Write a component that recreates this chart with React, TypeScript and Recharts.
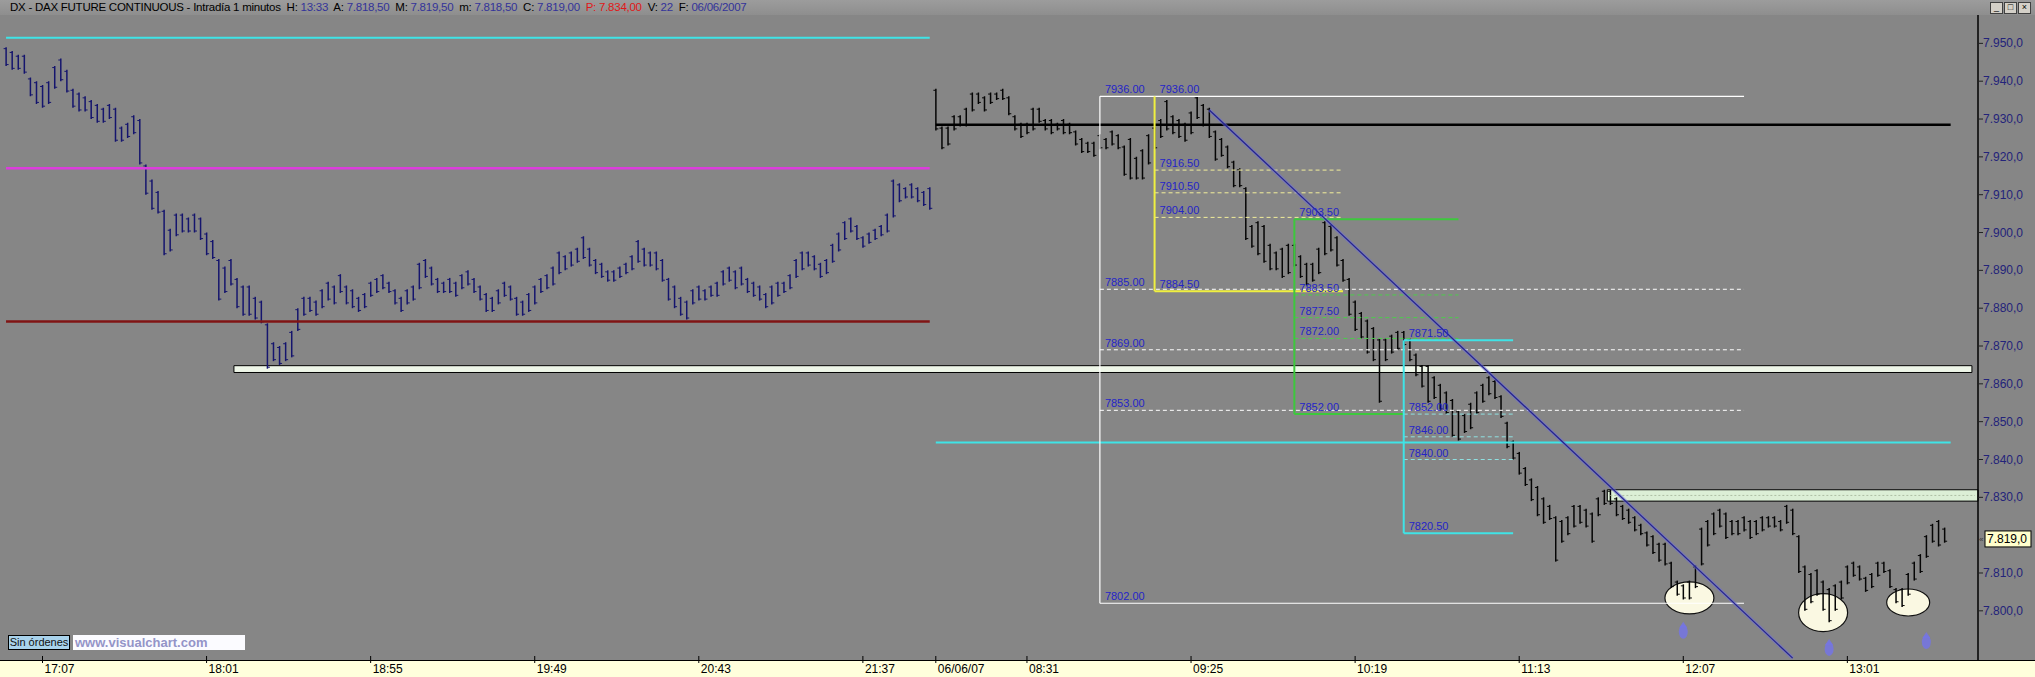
import React from "react"
import { ComposedChart, Bar, XAxis, YAxis, ReferenceLine, ReferenceArea, ReferenceDot } from "recharts"

// 2-minute bars (high / low). Session 1 starts 16:55, session 2 (06/06/07) starts 08:01
const d1High = [
  7949, 7948, 7947, 7947, 7941, 7940, 7939, 7940, 7944, 7946, 7943, 7938, 7937, 7936, 7935, 7934, 7933, 7934, 7933, 7928,
  7929, 7931, 7930, 7918, 7914, 7911, 7906, 7901, 7905, 7905, 7904, 7905, 7904, 7900, 7898, 7893, 7891, 7893, 7888, 7886,
  7886, 7883, 7882, 7876, 7871, 7870, 7871, 7874, 7880, 7883, 7883, 7882, 7885, 7887, 7886, 7889, 7886, 7885, 7883, 7884,
  7887, 7888, 7889, 7887, 7885, 7883, 7885, 7886, 7892, 7893, 7891, 7888, 7887, 7888, 7887, 7889, 7890, 7888, 7886, 7884,
  7883, 7885, 7887, 7886, 7883, 7882, 7884, 7886, 7888, 7889, 7891, 7895, 7894, 7895, 7896, 7899, 7896, 7893, 7892, 7890,
  7890, 7891, 7892, 7894, 7898, 7896, 7895, 7895, 7893, 7888, 7886, 7883, 7882, 7885, 7886, 7885, 7886, 7887, 7890, 7891,
  7890, 7891, 7888, 7887, 7886, 7884, 7886, 7887, 7887, 7889, 7893, 7895, 7895, 7894, 7892, 7893, 7897, 7900, 7903, 7904,
  7902, 7899, 7900, 7901, 7902, 7905, 7914, 7913, 7912, 7913, 7912, 7911, 7912,
]
const d1Low = [
  7944, 7943, 7943, 7942, 7936, 7934, 7933, 7934, 7938, 7940, 7937, 7933, 7932, 7932, 7930, 7929, 7929, 7930, 7924, 7924,
  7925, 7926, 7918, 7910, 7906, 7905, 7894, 7895, 7899, 7900, 7900, 7900, 7898, 7894, 7893, 7882, 7884, 7886, 7880, 7878,
  7878, 7877, 7876, 7864, 7866, 7865, 7866, 7867, 7874, 7878, 7879, 7878, 7880, 7882, 7881, 7884, 7881, 7880, 7879, 7880,
  7883, 7884, 7885, 7884, 7881, 7879, 7881, 7882, 7885, 7888, 7886, 7884, 7884, 7884, 7883, 7885, 7886, 7884, 7882, 7879,
  7879, 7881, 7883, 7882, 7878, 7878, 7879, 7881, 7884, 7885, 7886, 7889, 7890, 7891, 7892, 7893, 7891, 7889, 7888, 7887,
  7887, 7888, 7889, 7890, 7892, 7891, 7891, 7890, 7887, 7882, 7880, 7878, 7877, 7881, 7882, 7882, 7883, 7883, 7886, 7887,
  7885, 7886, 7884, 7883, 7882, 7880, 7881, 7883, 7884, 7885, 7888, 7890, 7891, 7890, 7888, 7889, 7892, 7895, 7898, 7900,
  7898, 7896, 7897, 7898, 7899, 7900, 7904, 7908, 7909, 7909, 7908, 7907, 7906,
]
const d2High = [
  7938, 7928, 7928, 7931, 7931, 7933, 7937, 7937, 7936, 7937, 7937, 7938, 7936, 7931, 7929, 7929, 7933, 7933, 7930, 7930,
  7929, 7930, 7929, 7927, 7925, 7924, 7924, 7926, 7925, 7927, 7926, 7923, 7925, 7920, 7922, 7926, 7928, 7930, 7935, 7931,
  7930, 7929, 7932, 7936, 7934, 7933, 7927, 7925, 7923, 7919, 7917, 7912, 7902, 7903, 7902, 7897, 7895, 7896, 7897, 7897,
  7894, 7892, 7892, 7896, 7903, 7902, 7899, 7893, 7888, 7882, 7879, 7877, 7875, 7872, 7872, 7873, 7874, 7874, 7872, 7868,
  7865, 7865, 7862, 7860, 7858, 7856, 7853, 7852, 7855, 7858, 7860, 7862, 7861, 7857, 7850, 7845, 7842, 7838, 7835, 7833,
  7830, 7828, 7825, 7824, 7825, 7828, 7828, 7827, 7826, 7830, 7832, 7832, 7830, 7828, 7827, 7825, 7823, 7821, 7820, 7818,
  7818, 7813, 7808, 7807, 7808, 7812, 7822, 7824, 7826, 7827, 7826, 7824, 7824, 7825, 7824, 7824, 7825, 7825, 7825, 7824,
  7828, 7827, 7820, 7812, 7810, 7811, 7808, 7806, 7807, 7808, 7812, 7813, 7812, 7809, 7810, 7813, 7813, 7811, 7806, 7806,
  7810, 7813, 7815, 7820, 7823, 7824, 7822,
]
const d2Low = [
  7927, 7922, 7923, 7927, 7928, 7928, 7932, 7934, 7932, 7934, 7935, 7935, 7931, 7927, 7925, 7926, 7927, 7929, 7927, 7926,
  7927, 7926, 7926, 7923, 7921, 7921, 7920, 7922, 7922, 7923, 7922, 7915, 7914, 7914, 7914, 7918, 7922, 7925, 7927, 7926,
  7925, 7924, 7926, 7930, 7928, 7925, 7919, 7920, 7917, 7912, 7912, 7898, 7896, 7894, 7892, 7890, 7890, 7888, 7889, 7891,
  7888, 7886, 7887, 7889, 7894, 7895, 7891, 7887, 7878, 7874, 7872, 7868, 7866, 7855, 7866, 7868, 7869, 7870, 7866, 7862,
  7859, 7855, 7856, 7853, 7852, 7846, 7845, 7847, 7848, 7852, 7855, 7857, 7856, 7851, 7843, 7840, 7836, 7833, 7829, 7825,
  7823, 7824, 7813, 7818, 7820, 7822, 7823, 7822, 7818, 7825, 7828, 7828, 7825, 7824, 7823, 7821, 7820, 7817, 7815, 7813,
  7812, 7806, 7804, 7803, 7803, 7806, 7812, 7817, 7820, 7822, 7819, 7820, 7820, 7821, 7819, 7820, 7821, 7822, 7822, 7821,
  7823, 7820, 7810, 7800, 7802, 7804, 7800, 7797, 7800, 7803, 7807, 7809, 7808, 7805, 7806, 7809, 7810, 7806, 7802, 7801,
  7804, 7808, 7810, 7814, 7818, 7817, 7818,
]
const emptySlots = ["13:35", "13:37", "13:39", "13:41", "13:43"]

const D1_START = 16 * 60 + 55
const D2_START = 8 * 60 + 1
const STEP = 2

const xTicks = ["17:07", "18:01", "18:55", "19:49", "20:43", "21:37", "08:01", "08:31", "09:25", "10:19", "11:13", "12:07", "13:01"]
const xTickLabels = ["17:07", "18:01", "18:55", "19:49", "20:43", "21:37", "06/06/07", "08:31", "09:25", "10:19", "11:13", "12:07", "13:01"]
const yTicks = [7800, 7810, 7819, 7830, 7840, 7850, 7860, 7870, 7880, 7890, 7900, 7910, 7920, 7930, 7940, 7950]
const LAST_PRICE = 7819

// horizontal levels: [price, from, to, color, width, dash]
const levels: [number, string, string, string, number, string?][] = [
  [7951.5, "16:55", "21:59", "#3fe3e6", 2],
  [7917, "16:55", "21:59", "#dc3cdc", 2.5],
  [7876.5, "16:55", "21:59", "#801414", 2.5],
  [7928.5, "08:01", "13:35", "#000000", 2.5],
  [7844.5, "08:01", "13:35", "#3fe3e6", 2],
  // white retracement box
  [7936, "08:55", "12:27", "#ffffff", 1.2],
  [7885, "08:55", "12:27", "#ffffff", 1, "4 3"],
  [7869, "08:55", "12:27", "#ffffff", 1, "4 3"],
  [7853, "08:55", "12:27", "#ffffff", 1, "4 3"],
  [7802, "08:55", "12:27", "#ffffff", 1.2],
  // yellow
  [7916.5, "09:13", "10:15", "#f2ee9a", 1, "4 3"],
  [7910.5, "09:13", "10:15", "#f2ee9a", 1, "4 3"],
  [7904, "09:13", "10:15", "#f2ee9a", 1, "4 3"],
  [7884.5, "09:13", "10:15", "#f0f040", 2],
  // green
  [7903.5, "09:59", "10:53", "#3cc83c", 2],
  [7883.5, "09:59", "10:53", "#4ccc4c", 1, "4 3"],
  [7877.5, "09:59", "10:53", "#4ccc4c", 1, "4 3"],
  [7872, "09:59", "10:53", "#4ccc4c", 1, "4 3"],
  [7852, "09:59", "10:35", "#3cc83c", 2],
  // cyan
  [7871.5, "10:35", "11:11", "#3fe3e6", 2],
  [7852, "10:35", "11:11", "#8fe0e0", 1, "4 3"],
  [7846, "10:35", "11:11", "#8fe0e0", 1, "4 3"],
  [7840, "10:35", "11:11", "#8fe0e0", 1, "4 3"],
  [7820.5, "10:35", "11:11", "#3fe3e6", 2],
]
// vertical legs: [slot, from price, to price, color, width]
const legs: [string, number, number, string, number][] = [
  ["08:55", 7936, 7802, "#ffffff", 1.2],
  ["09:13", 7936, 7884.5, "#f0f040", 2],
  ["09:59", 7903.5, 7852, "#3cc83c", 2],
  ["10:35", 7871.5, 7820.5, "#3fe3e6", 2],
]
const levelLabels: [string, number, string][] = [
  ["08:55", 7936, "7936.00"], ["08:55", 7885, "7885.00"], ["08:55", 7869, "7869.00"], ["08:55", 7853, "7853.00"], ["08:55", 7802, "7802.00"],
  ["09:13", 7936, "7936.00"], ["09:13", 7916.5, "7916.50"], ["09:13", 7910.5, "7910.50"], ["09:13", 7904, "7904.00"], ["09:13", 7884.5, "7884.50"],
  ["09:59", 7903.5, "7903.50"], ["09:59", 7883.5, "7883.50"], ["09:59", 7877.5, "7877.50"], ["09:59", 7872, "7872.00"], ["09:59", 7852, "7852.00"],
  ["10:35", 7871.5, "7871.50"], ["10:35", 7852, "7852.00"], ["10:35", 7846, "7846.00"], ["10:35", 7840, "7840.00"], ["10:35", 7820.5, "7820.50"],
]
// bands: [from, to, low, high, fill]
const bands: [string, string, number, number, string][] = [
  ["18:11", "13:41", 7863, 7864.8, "#eef6e8"],
  ["11:43", "13:43", 7829, 7832, "#dcefd6"],
]
const trend: [string, number, string, number] = ["09:31", 7932.4, "12:43", 7787.5]
// circled lows: slot, centre price, radii
const ringSlots = ["12:09", "12:53", "13:21"]
const ringPrices = [7803.4, 7799.5, 7802.2]
const ringRx = [24.5, 24.5, 21.5]
const ringRy = [16, 19, 13.5]
const arrows: [string, number][] = [
  ["12:07", 7794.7],
  ["12:55", 7790.2],
  ["13:27", 7792],
]

const hhmm = (m: number) => `${String(Math.floor(m / 60)).padStart(2, "0")}:${String(m % 60).padStart(2, "0")}`

const baseRows = [
  ...d1High.map((h, k) => ({ t: hhmm(D1_START + STEP * k), hl: [d1Low[k], h] as number[] | null, day: 1 })),
  ...d2High.map((h, j) => ({ t: hhmm(D2_START + STEP * j), hl: [d2Low[j], h] as number[] | null, day: 2 })),
  ...emptySlots.map((t) => ({ t, hl: null as number[] | null, day: 0 })),
]
const rows = baseRows.map((r) => {
  const ri = ringSlots.indexOf(r.t)
  return { ...r, ring: ri >= 0 ? [ringPrices[ri] - 0.5, ringPrices[ri] + 0.5] : null, ri }
})

const fmtPrice = (v: number) => {
  const th = Math.floor(v / 1000)
  const rest = String(Math.round(v % 1000)).padStart(3, "0")
  return `${th}.${rest},0`
}

const NARROW = "'Liberation Sans Narrow', 'Arial Narrow', 'Liberation Sans', Arial, sans-serif"
const SANS = "'Liberation Sans', Arial, sans-serif"

const BarShape = (p: any) => {
  const { x, y, width, height, payload } = p
  if (!payload || !payload.hl || !Number.isFinite(y)) return null
  const cx = x + width / 2
  const color = payload.day === 1 ? "#15156e" : "#050505"
  return (
    <g>
      <line x1={cx} x2={cx} y1={y} y2={y + height} stroke={color} strokeWidth={1.5} />
      <line x1={cx - 2.5} x2={cx} y1={y + 1.5} y2={y + 1.5} stroke={color} strokeWidth={1} />
      <line x1={cx} x2={cx + 2.5} y1={y + height - 1.5} y2={y + height - 1.5} stroke={color} strokeWidth={1} />
    </g>
  )
}

const RingShape = (p: any) => {
  const { x, y, width, height, payload } = p
  if (!payload || !payload.ring || !Number.isFinite(y)) return null
  const i = payload.ri
  return <ellipse cx={x + width / 2} cy={y + height / 2} rx={ringRx[i]} ry={ringRy[i]} fill="#faf8e2" stroke="#111" strokeWidth={1.2} />
}

const XTick = (p: any) => {
  const { x, y, payload } = p
  const idx = xTicks.indexOf(payload.value)
  return (
    <g>
      <line x1={x} x2={x} y1={y - 4} y2={y + 3} stroke="#000" strokeWidth={1} />
      <text x={x + 2} y={y + 13} fontSize={12} fontFamily={NARROW} fill="#000" textAnchor="start">
        {xTickLabels[idx]}
      </text>
    </g>
  )
}

const YTick = (p: any) => {
  const { x, y, payload } = p
  const v = payload.value
  if (v === LAST_PRICE) {
    return (
      <g>
        <text x={x + 1} y={y + 3} fontSize={8} fill="#333" fontFamily={SANS}>«</text>
        <rect x={x + 7} y={y - 8} width={46} height={16} fill="#ffffcc" stroke="#000" strokeWidth={1} />
        <text x={x + 9} y={y + 4} fontSize={12} fontFamily={SANS} fill="#000">{fmtPrice(v)}</text>
      </g>
    )
  }
  return (
    <g>
      <line x1={x} x2={x + 5} y1={y} y2={y} stroke="#222" strokeWidth={1} />
      <text x={x + 5} y={y + 4} fontSize={12} fontFamily={SANS} fill="#23237a">{fmtPrice(v)}</text>
    </g>
  )
}

const LevelText = (label: string) => (p: any) => (
  <text x={p.cx + 5} y={p.cy - 3} fontSize={11} fontFamily={SANS} fill="#2424c8">{label}</text>
)
const Arrow = (p: any) => (
  <g>
    <ellipse cx={p.cx} cy={p.cy + 1} rx={4.5} ry={7} fill="#7474e4" opacity={0.85} />
    <path d={`M${p.cx - 4},${p.cy - 3} L${p.cx},${p.cy - 9} L${p.cx + 4},${p.cy - 3} Z`} fill="#7474e4" opacity={0.85} />
  </g>
)

const blue = { color: "#33339a" }

export default function App() {
  return (
    <div style={{ position: "fixed", left: 0, top: 0, width: 2035, height: 677, background: "#868686", overflow: "hidden" }}>
      {/* title bar */}
      <div
        style={{
          position: "absolute", left: 0, top: 0, width: 2035, height: 15,
          background: "linear-gradient(#9c9c9c, #8e8e8e)", fontFamily: NARROW, fontSize: 11.5, lineHeight: "15px",
          whiteSpace: "nowrap", color: "#000", letterSpacing: -0.25,
        }}
      >
        <span style={{ marginLeft: 10 }}>
          DX - DAX FUTURE CONTINUOUS - Intradía 1 minutos&nbsp; H: <span style={blue}>13:33</span>&nbsp; A: <span style={blue}>7.818,50</span>&nbsp; M: <span style={blue}>7.819,50</span>&nbsp; m: <span style={blue}>7.818,50</span>&nbsp; C: <span style={blue}>7.819,00</span>&nbsp; <span style={{ color: "#e01818" }}>P: 7.834,00</span>&nbsp; V: <span style={blue}>22</span>&nbsp; F: <span style={blue}>06/06/2007</span>
        </span>
        <div style={{ position: "absolute", right: 4, top: 2, display: "flex", gap: 1, letterSpacing: 0 }}>
          {["_", "□", "×"].map((c) => (
            <div key={c} style={{ width: 11, height: 10, background: "#d4d0c8", border: "1px solid #404040", fontSize: 9, lineHeight: "9px", textAlign: "center", fontFamily: SANS }}>{c}</div>
          ))}
        </div>
      </div>
      {/* time band */}
      <div style={{ position: "absolute", left: 0, top: 660, width: 2035, height: 17, background: "#ffffdc", borderTop: "1px solid #000", boxSizing: "border-box" }} />

      <div style={{ position: "absolute", left: 0, top: 0 }}>
        <ComposedChart width={2035} height={677} data={rows} margin={{ top: 15, right: 0, bottom: 0, left: 3 }}>
          <XAxis dataKey="t" type="category" ticks={xTicks} interval={0} height={17} axisLine={false} tickLine={false} tickSize={0} tickMargin={0} tick={<XTick />} />
          <XAxis xAxisId="ring" dataKey="t" type="category" hide />
          <YAxis
            orientation="right" type="number" width={57} domain={[7787, 7957.5]} allowDataOverflow
            ticks={yTicks} interval={0} axisLine={{ stroke: "#000", strokeWidth: 1.5 }} tickLine={false} tickSize={0} tickMargin={0} tick={<YTick />}
          />
          {bands.map(([a, b, lo, hi, fill], i) => (
            <ReferenceArea key={"b" + i} x1={a} x2={b} y1={lo} y2={hi} fill={fill} fillOpacity={1} stroke="#000" strokeWidth={1} ifOverflow="visible" />
          ))}
          <ReferenceLine key="b1mid" segment={[{ x: bands[1][0], y: 7830.5 }, { x: bands[1][1], y: 7830.5 }]} stroke="#aebfa4" strokeDasharray="2 2" />
          {levels.map(([y, a, b, color, w, dash], i) => (
            <ReferenceLine key={"l" + i} segment={[{ x: a, y }, { x: b, y }]} stroke={color} strokeWidth={w} strokeDasharray={dash} ifOverflow="visible" />
          ))}
          {legs.map(([x, y1, y2, color, w], i) => (
            <ReferenceLine key={"v" + i} segment={[{ x, y: y1 }, { x, y: y2 }]} stroke={color} strokeWidth={w} ifOverflow="visible" />
          ))}
          <Bar xAxisId="ring" dataKey="ring" shape={RingShape} isAnimationActive={false} />
          <Bar dataKey="hl" shape={BarShape} isAnimationActive={false} />
          <ReferenceLine segment={[{ x: trend[0], y: trend[1] }, { x: trend[2], y: trend[3] }]} stroke="#7070d8" strokeOpacity={0.55} strokeWidth={3.5} ifOverflow="visible" />
          <ReferenceLine segment={[{ x: trend[0], y: trend[1] }, { x: trend[2], y: trend[3] }]} stroke="#23238c" strokeWidth={1.2} ifOverflow="visible" />
          {levelLabels.map(([x, y, label], i) => (
            <ReferenceDot key={"t" + i} x={x} y={y} r={1} shape={LevelText(label)} ifOverflow="visible" />
          ))}
          {arrows.map(([x, y], i) => (
            <ReferenceDot key={"a" + i} x={x} y={y} r={1} shape={Arrow} ifOverflow="visible" />
          ))}
        </ComposedChart>
      </div>

      {/* footer badges */}
      <div style={{ position: "absolute", left: 8, top: 635, width: 62, height: 15, background: "#a9d3ec", border: "1px solid #000", boxSizing: "border-box", fontFamily: NARROW, fontSize: 11, lineHeight: "13px", textAlign: "center", color: "#111" }}>
        Sin órdenes
      </div>
      <div style={{ position: "absolute", left: 73, top: 635, width: 172, height: 15, background: "#fbfbff", fontFamily: SANS, fontWeight: "bold", fontSize: 13, lineHeight: "15px", color: "#9494c8", paddingLeft: 2, boxSizing: "border-box" }}>
        www.visualchart.com
      </div>
    </div>
  )
}
